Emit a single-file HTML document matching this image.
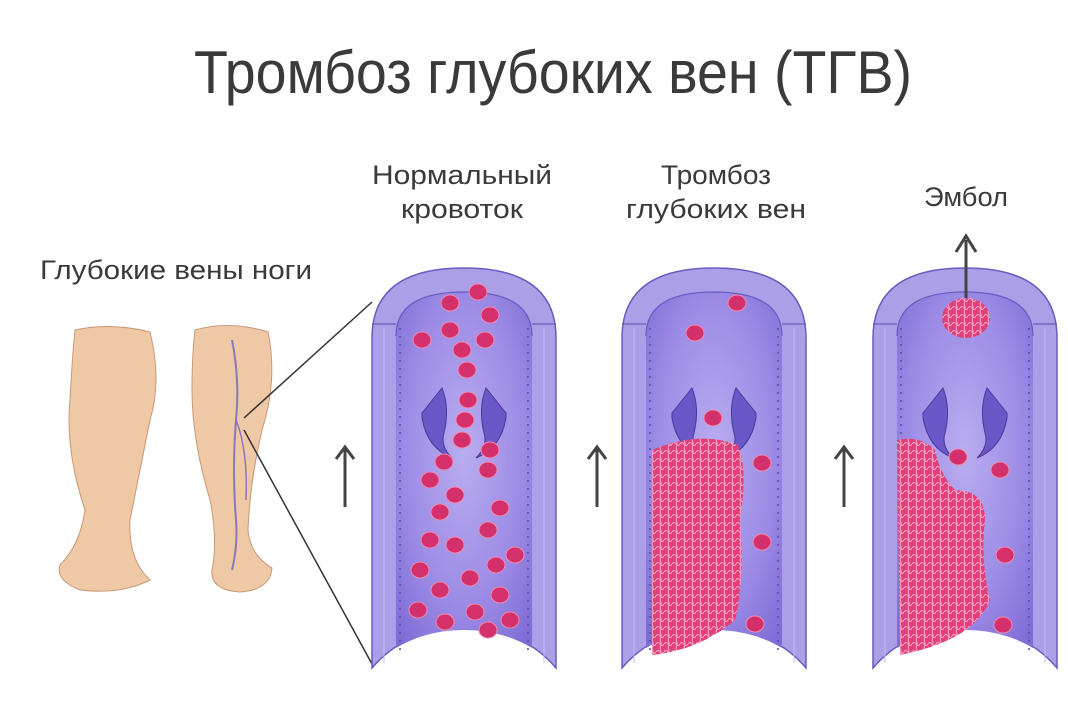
<!DOCTYPE html>
<html><head><meta charset="utf-8"><style>
html,body{margin:0;padding:0;background:#fff;}
svg{display:block}
text{font-family:"Liberation Sans",sans-serif;fill:#3a3a3a}
</style></head><body>
<svg width="1068" height="710" viewBox="0 0 1068 710" xmlns="http://www.w3.org/2000/svg">
<defs>
<radialGradient id="inner" cx="0.5" cy="0.45" r="0.7">
<stop offset="0" stop-color="#b9adf0"/><stop offset="0.6" stop-color="#9d8ce6"/><stop offset="1" stop-color="#7f6cd6"/>
</radialGradient>
<pattern id="clot" width="8" height="8" patternUnits="userSpaceOnUse">
<rect width="8" height="8" fill="#e0407a"/>
<path d="M0 4 Q2 1 4 4 T8 4 M4 0 Q6 3 4 8" stroke="#f6a0c0" stroke-width="1.2" fill="none"/>
</pattern>
<g id="vessel">
<path d="M0 400 L0 70 Q0 0 92 0 Q184 0 184 70 L184 400 Q150 360 92 360 Q34 360 0 400 Z" fill="#ab9fe8" stroke="#6a5cbf" stroke-width="1.5"/>
<path d="M24 380 L24 68 Q24 24 92 24 Q160 24 160 68 L160 380 Q130 362 92 362 Q54 362 24 380 Z" fill="url(#inner)"/>
<path d="M0 56 L24 56 M160 56 L184 56" stroke="#6a5cbf" stroke-width="1.2"/>
<path d="M24 68 Q24 24 92 24 Q160 24 160 68" fill="none" stroke="#6a5cbf" stroke-width="1.2"/>
<line x1="28" y1="60" x2="28" y2="385" stroke="#5a4ab0" stroke-width="1.5" stroke-dasharray="2 6"/>
<line x1="156" y1="60" x2="156" y2="385" stroke="#5a4ab0" stroke-width="1.5" stroke-dasharray="2 6"/>
<line x1="12" y1="60" x2="12" y2="395" stroke="#c6bcf2" stroke-width="1"/>
<line x1="172" y1="60" x2="172" y2="395" stroke="#c6bcf2" stroke-width="1"/>
<path d="M50 145 L70 120 Q78 140 72 165 Q68 178 80 190 Q55 180 50 150 Z" fill="#6b58c8" stroke="#4a3a9a"/>
<path d="M134 145 L114 120 Q106 140 112 165 Q116 178 104 190 Q129 180 134 150 Z" fill="#6b58c8" stroke="#4a3a9a"/>
</g>
<g id="arrow"><line x1="0" y1="62" x2="0" y2="4" stroke="#444" stroke-width="3"/><path d="M-9 14 L0 2 L9 14" fill="none" stroke="#444" stroke-width="3"/></g>
</defs>

<text x="553" y="93" font-size="60" text-anchor="middle" textLength="718" lengthAdjust="spacingAndGlyphs">Тромбоз глубоких вен (ТГВ)</text>
<text x="462" y="184" font-size="27" text-anchor="middle" textLength="180" lengthAdjust="spacingAndGlyphs">Нормальный</text>
<text x="462" y="218" font-size="27" text-anchor="middle" textLength="122" lengthAdjust="spacingAndGlyphs">кровоток</text>
<text x="716" y="184" font-size="27" text-anchor="middle" textLength="110" lengthAdjust="spacingAndGlyphs">Тромбоз</text>
<text x="716" y="218" font-size="27" text-anchor="middle" textLength="180" lengthAdjust="spacingAndGlyphs">глубоких вен</text>
<text x="966" y="206" font-size="27" text-anchor="middle" textLength="84" lengthAdjust="spacingAndGlyphs">Эмбол</text>
<text x="176" y="279" font-size="27" text-anchor="middle" textLength="272" lengthAdjust="spacingAndGlyphs">Глубокие вены ноги</text>

<path d="M75 330 Q110 322 150 332 Q162 380 150 420 Q140 470 130 520 Q128 560 150 580 Q120 595 80 590 Q55 580 60 565 Q80 545 85 510 Q65 450 70 400 Q72 360 75 330 Z" fill="#efc9a6" stroke="#c89878" stroke-width="1"/>
<path d="M195 330 Q230 320 268 332 Q278 380 262 430 Q250 480 248 530 Q250 555 272 568 Q270 590 240 592 Q210 590 212 570 Q218 540 210 500 Q192 440 192 390 Q192 355 195 330 Z" fill="#efc9a6" stroke="#c89878" stroke-width="1"/>
<path d="M232 340 Q240 380 236 420 Q232 470 236 520 Q238 545 232 570" stroke="#8a78b8" stroke-width="2" fill="none"/>
<path d="M236 420 Q248 450 246 500" stroke="#8a78b8" stroke-width="1.5" fill="none"/>
<line x1="244" y1="418" x2="372" y2="302" stroke="#333" stroke-width="1.5"/>
<line x1="244" y1="430" x2="372" y2="664" stroke="#333" stroke-width="1.5"/>

<use href="#vessel" x="372" y="268"/>
<use href="#vessel" x="622" y="268"/>
<use href="#vessel" x="873" y="268"/>

<use href="#arrow" x="345" y="445"/>
<use href="#arrow" x="597" y="445"/>
<use href="#arrow" x="844" y="445"/>

<g fill="#d3306c" stroke="#f08ab0" stroke-width="1">
<ellipse cx="478" cy="292" rx="9" ry="8"/><ellipse cx="450" cy="303" rx="9" ry="8"/><ellipse cx="490" cy="315" rx="9" ry="8"/>
<ellipse cx="422" cy="340" rx="9" ry="8"/><ellipse cx="450" cy="330" rx="9" ry="8"/><ellipse cx="485" cy="340" rx="9" ry="8"/>
<ellipse cx="462" cy="350" rx="9" ry="8"/><ellipse cx="467" cy="370" rx="9" ry="8"/><ellipse cx="468" cy="400" rx="9" ry="8"/>
<ellipse cx="465" cy="420" rx="9" ry="8"/><ellipse cx="462" cy="440" rx="9" ry="8"/><ellipse cx="490" cy="450" rx="9" ry="8"/>
<ellipse cx="444" cy="462" rx="9" ry="8"/><ellipse cx="488" cy="470" rx="9" ry="8"/><ellipse cx="430" cy="480" rx="9" ry="8"/>
<ellipse cx="455" cy="495" rx="9" ry="8"/><ellipse cx="500" cy="508" rx="9" ry="8"/><ellipse cx="440" cy="512" rx="9" ry="8"/>
<ellipse cx="488" cy="530" rx="9" ry="8"/><ellipse cx="430" cy="540" rx="9" ry="8"/><ellipse cx="455" cy="545" rx="9" ry="8"/>
<ellipse cx="496" cy="565" rx="9" ry="8"/><ellipse cx="420" cy="570" rx="9" ry="8"/><ellipse cx="470" cy="578" rx="9" ry="8"/>
<ellipse cx="440" cy="590" rx="9" ry="8"/><ellipse cx="500" cy="595" rx="9" ry="8"/><ellipse cx="418" cy="610" rx="9" ry="8"/>
<ellipse cx="475" cy="612" rx="9" ry="8"/><ellipse cx="445" cy="622" rx="9" ry="8"/><ellipse cx="510" cy="620" rx="9" ry="8"/>
<ellipse cx="488" cy="630" rx="9" ry="8"/><ellipse cx="515" cy="555" rx="9" ry="8"/>
<ellipse cx="737" cy="303" rx="9" ry="8"/><ellipse cx="695" cy="333" rx="9" ry="8"/><ellipse cx="713" cy="418" rx="9" ry="8"/>
<ellipse cx="762" cy="463" rx="9" ry="8"/><ellipse cx="762" cy="542" rx="9" ry="8"/><ellipse cx="755" cy="624" rx="9" ry="8"/>
<ellipse cx="958" cy="457" rx="9" ry="8"/><ellipse cx="1000" cy="470" rx="9" ry="8"/><ellipse cx="1005" cy="555" rx="9" ry="8"/>
<ellipse cx="1003" cy="625" rx="9" ry="8"/>
</g>
<path d="M652 450 Q700 430 738 445 Q748 470 740 520 Q745 580 735 620 Q700 650 652 655 Z" fill="url(#clot)"/>
<path d="M897 440 Q920 435 935 450 Q940 475 955 490 Q985 490 985 520 Q980 560 990 600 Q975 640 900 655 Z" fill="url(#clot)"/>
<ellipse cx="966" cy="318" rx="24" ry="20" fill="url(#clot)"/>
<line x1="966" y1="298" x2="966" y2="240" stroke="#444" stroke-width="3"/>
<path d="M956 252 L966 236 L976 252" fill="none" stroke="#444" stroke-width="3"/>
</svg>
</body></html>
